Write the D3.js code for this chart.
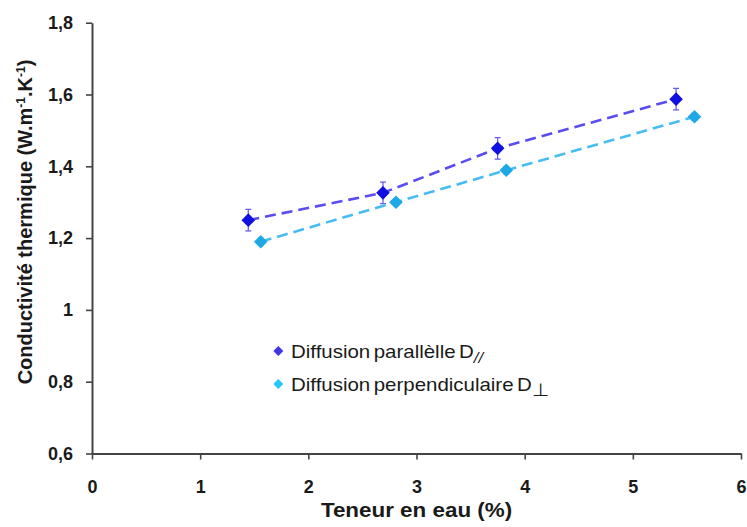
<!DOCTYPE html>
<html><head><meta charset="utf-8">
<script src="https://cdn.jsdelivr.net/npm/d3@7"></script>
<style>body{margin:0;background:#fff}svg{display:block}</style>
</head><body>
<svg id="c" width="747" height="527"></svg>
<script>
const xTicks = [0,1,2,3,4,5,6];
const yTicks = [0.6,0.8,1.0,1.2,1.4,1.6,1.8];
const parX = [1.445, 2.69, 3.75, 5.40];
const parY = [1.250, 1.326, 1.450, 1.587];
const parErr = [0.03, 0.03, 0.03, 0.03];
const perX = [1.56, 2.81, 3.83, 5.57];
const perY = [1.190, 1.300, 1.389, 1.538];
const perErr = [0.01, 0.01, 0.01, 0.01];
const seriesNames = ["Diffusion parallèlle D", "Diffusion perpendiculaire D"];
const seriesSubs = ["//", "⊥"];

const svg = d3.select("#c");
const x = d3.scaleLinear().domain([0,6]).range([92,741]);
const y = d3.scaleLinear().domain([0.6,1.8]).range([453.5,22.7]);
const fmt = d => (d===1 ? "1" : d===0 ? "0" : d3.format(".1f")(d).replace(".", ","));
const axisCol = "#444";
const font = "Liberation Sans, Arial, sans-serif";

// axes
const gx = svg.append("g").attr("transform","translate(0,"+y(0.6)+")")
  .call(d3.axisBottom(x).tickValues(xTicks).tickSize(6).tickSizeOuter(0).tickFormat(d=>String(d)));
const gy = svg.append("g").attr("transform","translate("+x(0)+",0)")
  .call(d3.axisLeft(y).tickValues(yTicks).tickSize(6).tickSizeOuter(0).tickFormat(fmt).tickPadding(13));
[gx,gy].forEach(g=>{
  g.select(".domain").attr("stroke",axisCol).attr("stroke-width",2);
  g.selectAll(".tick line").attr("stroke",axisCol).attr("stroke-width",1.6);
  g.selectAll(".tick text").attr("fill","#1a1a1a").attr("font-family",font)
   .attr("font-weight","bold").attr("font-size",18);
});
gx.selectAll(".tick text").attr("dy","0").attr("y",39);

// axis titles
svg.append("text").attr("transform","translate(416.5,517) scale(1.067,1)").attr("text-anchor","middle")
  .attr("font-family",font).attr("font-weight","bold")
  .attr("font-size",21).attr("fill","#1a1a1a").text("Teneur en eau (%)");
const yt = svg.append("text").attr("transform","translate(32,222) rotate(-90)").attr("text-anchor","middle")
  .attr("font-family",font).attr("font-weight","bold")
  .attr("font-size",20).attr("fill","#1a1a1a");
yt.append("tspan").text("Conductivité thermique (W.m");
yt.append("tspan").attr("dy",-7).attr("font-size",12).text("-1");
yt.append("tspan").attr("dy",7).text(".K");
yt.append("tspan").attr("dy",-7).attr("font-size",12).text("-1");
yt.append("tspan").attr("dy",7).text(")");

const series = [
  {xs:parX, ys:parY, es:parErr, line:"#5a4cf0", mark:"#1010e0", err:"#6a5cf0", leg:"#3f36e8"},
  {xs:perX, ys:perY, es:perErr, line:"#45bdf2", mark:"#1fa8e6", err:"#45bdf2", leg:"#26c6f8"}
];
const dia = r => "M0,"+(-r)+"L"+r+",0L0,"+r+"L"+(-r)+",0Z";
const lineGen = d3.line().x(d=>x(d[0])).y(d=>y(d[1]));

series.forEach(s=>{
  const pts = s.xs.map((v,i)=>[v,s.ys[i],s.es[i]]);
  svg.append("path").attr("d",lineGen(pts)).attr("fill","none")
    .attr("stroke",s.line).attr("stroke-width",2.6).attr("stroke-dasharray","11,6");
  const g = svg.append("g");
  pts.forEach(p=>{
    g.append("line").attr("x1",x(p[0])).attr("x2",x(p[0])).attr("y1",y(p[1]-p[2])).attr("y2",y(p[1]+p[2]))
      .attr("stroke",s.err).attr("stroke-width",1.3);
    [p[1]-p[2],p[1]+p[2]].forEach(v=>{
      g.append("line").attr("x1",x(p[0])-3).attr("x2",x(p[0])+3).attr("y1",y(v)).attr("y2",y(v))
        .attr("stroke",s.err).attr("stroke-width",1.3);
    });
    g.append("path").attr("d",dia(6.8)).attr("transform","translate("+x(p[0])+","+y(p[1])+")")
      .attr("fill",s.mark);
  });
});

// legend
const legY = [351, 384];
series.forEach((s,i)=>{
  svg.append("path").attr("d",dia(5)).attr("transform","translate(278.3,"+legY[i]+")")
    .attr("fill",s.leg);
  const t = svg.append("text").attr("transform","translate(291,"+(legY[i]+6.5)+") scale(1.1,1)")
    .attr("font-family",font).attr("font-size",18.6).attr("fill","#1a1a1a")
    .attr("word-spacing",-2);
  t.append("tspan").text(seriesNames[i]);
  t.append("tspan").attr("dy",5).attr("font-size",i===0?15:18).attr("font-style",i===0?"italic":"normal").text(seriesSubs[i]);
});
</script>
</body></html>
